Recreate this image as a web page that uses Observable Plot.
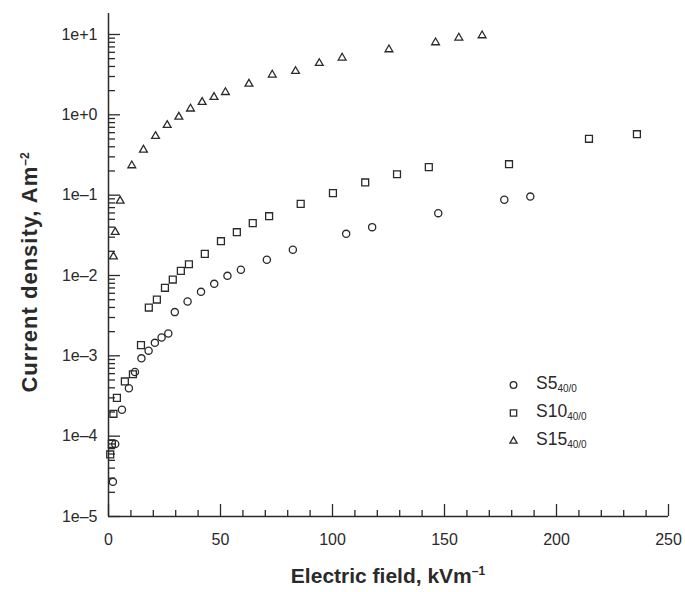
<!DOCTYPE html>
<html><head><meta charset="utf-8">
<script src="https://cdn.jsdelivr.net/npm/d3@7"></script>
<script src="https://cdn.jsdelivr.net/npm/@observablehq/plot@0.6"></script>
<style>body{margin:0;background:#fff} svg{display:block}</style>
</head><body><div id="chart"></div>
<script>
// ---- data ----
const s5Field   = [1.96, 3.0, 6.0, 9.1, 11.8, 14.7, 17.9, 20.7, 23.7, 26.7, 29.6, 35.3, 41.3, 47.2, 53.1, 59.1, 70.7, 82.3, 106.1, 117.7, 147.2, 176.7, 188.3];
const s5Density = [2.7e-5, 8.0e-5, 2.13e-4, 3.95e-4, 6.3e-4, 9.3e-4, 1.16e-3, 1.45e-3, 1.69e-3, 1.9e-3, 3.5e-3, 4.74e-3, 6.26e-3, 7.87e-3, 9.9e-3, 1.18e-2, 1.57e-2, 2.09e-2, 3.3e-2, 4.0e-2, 5.97e-2, 8.75e-2, 9.6e-2];

const s10Field   = [0.76, 1.5, 2.2, 3.75, 7.3, 10.9, 14.5, 18.0, 21.6, 25.2, 28.7, 32.3, 35.9, 43.0, 50.2, 57.3, 64.4, 71.7, 85.8, 100.2, 114.6, 128.8, 143.0, 178.8, 214.5, 235.9];
const s10Density = [5.92e-5, 8.03e-5, 1.9e-4, 3.0e-4, 4.8e-4, 5.9e-4, 1.36e-3, 3.99e-3, 5.02e-3, 7.03e-3, 8.9e-3, 1.14e-2, 1.38e-2, 1.86e-2, 2.67e-2, 3.46e-2, 4.48e-2, 5.47e-2, 7.8e-2, 0.106, 0.144, 0.182, 0.223, 0.243, 0.503, 0.574];

const s15Field   = [2.2, 3.0, 5.2, 10.4, 15.6, 21.0, 26.2, 31.4, 36.6, 41.8, 47.1, 52.2, 62.7, 73.1, 83.5, 94.1, 104.3, 125.2, 146.0, 156.4, 166.8];
const s15Density = [0.0172, 0.0346, 0.085, 0.234, 0.367, 0.542, 0.743, 0.944, 1.19, 1.44, 1.66, 1.91, 2.43, 3.15, 3.49, 4.39, 5.13, 6.5, 7.95, 9.1, 9.72];

const seriesNames = ["S5", "S10", "S15"];
const seriesSub = "40/0";
const xMajorTicks = [0, 50, 100, 150, 200, 250];
const xMinorTicks = [10,20,30,40,60,70,80,90,110,120,130,140,160,170,180,190,210,220,230,240];
const yMajorTicks = [1e-5, 1e-4, 1e-3, 1e-2, 1e-1, 1e0, 1e1];
const yMinorTicks = yMajorTicks.slice(0, -1).flatMap(p => [2,3,4,5,6,7,8,9].map(k => k * p));
const xTitle = "Electric field, kVm";
const xTitleSup = "–1";
const yTitle = "Current density, Am";
const yTitleSup = "–2";

// ---- build ----
const ink = "#2a2a2a";
const font = "'Liberation Sans', Arial, Helvetica, sans-serif";
const toRows = (xs, ys) => xs.map((x, i) => ({x, y: ys[i]}));
const s5 = toRows(s5Field, s5Density);
const s10 = toRows(s10Field, s10Density);
const s15 = toRows(s15Field, s15Density);
const fmtY = d => { const e = Math.round(Math.log10(d)); return "1e" + (e >= 0 ? "+" + e : "\u2013" + (-e)); };

const symbols = [
  {data: s5, symbol: "circle", r: 3.6},
  {data: s10, symbol: "square", r: 3.9},
  {data: s15, symbol: "triangle", r: 2.9}
];

const plot = Plot.plot({
  width: 685, height: 592,
  marginLeft: 108, marginRight: 17, marginTop: 13, marginBottom: 76,
  style: {fontFamily: font, fontSize: "16px", color: ink, background: "#fff", overflow: "visible"},
  x: {domain: [0, 250]},
  y: {type: "log", domain: [1e-5, 18.25]},
  marks: [
    Plot.axisX(xMinorTicks, {tickSize: -6, tickFormat: () => "", label: null, stroke: ink, strokeWidth: 1.3}),
    Plot.axisX(xMajorTicks, {tickSize: -12, tickPadding: 29, tickFormat: d => String(d), label: null, stroke: ink, strokeWidth: 1.3, fontSize: 16}),
    Plot.axisY(yMinorTicks, {tickSize: -7, tickFormat: () => "", label: null, stroke: ink, strokeWidth: 1.3}),
    Plot.axisY(yMajorTicks, {tickSize: -12, tickPadding: 23, tickFormat: fmtY, label: null, stroke: ink, strokeWidth: 1.3, fontSize: 16}),
    Plot.ruleX([0], {stroke: ink, strokeWidth: 1.5}),
    Plot.ruleY([1e-5], {stroke: ink, strokeWidth: 1.5}),
    ...symbols.map(s => Plot.dot(s.data, {x: "x", y: "y", symbol: s.symbol, r: s.r, stroke: ink, strokeWidth: 1.3, fill: "none"}))
  ]
});
document.getElementById("chart").append(plot);

// ---- titles and legend ----
const svg = d3.select(plot);
const X = plot.scale("x"), Y = plot.scale("y");
const xMid = (X.apply(0) + X.apply(250)) / 2;
const yMid = (Y.apply(1e-5) + Y.apply(18.25)) / 2;

const xt = svg.append("text").attr("x", xMid).attr("y", 583)
  .attr("text-anchor", "middle").attr("font-family", font).attr("font-weight", "bold")
  .attr("font-size", 21).attr("fill", ink);
xt.append("tspan").text(xTitle);
xt.append("tspan").attr("font-size", 12).attr("dy", -8).text(xTitleSup);

const yt = svg.append("text").attr("transform", `translate(37,${yMid + 8}) rotate(-90)`)
  .attr("text-anchor", "middle").attr("font-family", font).attr("font-weight", "bold")
  .attr("font-size", 22).attr("letter-spacing", 1.0).attr("fill", ink);
yt.append("tspan").text(yTitle);
yt.append("tspan").attr("font-size", 12).attr("letter-spacing", 0).attr("dy", -8).text(yTitleSup);

const legend = svg.append("g").attr("text-anchor", "start");
const legendY = [385, 413, 441];
symbols.forEach((s, i) => {
  const sym = {circle: d3.symbolCircle, square: d3.symbolSquare, triangle: d3.symbolTriangle}[s.symbol];
  legend.append("path")
    .attr("d", d3.symbol(sym, Math.PI * s.r * s.r * 0.85)())
    .attr("transform", `translate(513.5,${legendY[i]})`)
    .attr("fill", "none").attr("stroke", ink).attr("stroke-width", 1.3);
  const t = legend.append("text").attr("x", 536).attr("y", legendY[i] + 4)
    .attr("text-anchor", "start")
    .attr("font-family", font).attr("font-size", 17.5).attr("fill", ink);
  t.append("tspan").text(seriesNames[i]);
  t.append("tspan").attr("font-size", 10).attr("dy", 3).text(seriesSub);
});
</script>
</body></html>
